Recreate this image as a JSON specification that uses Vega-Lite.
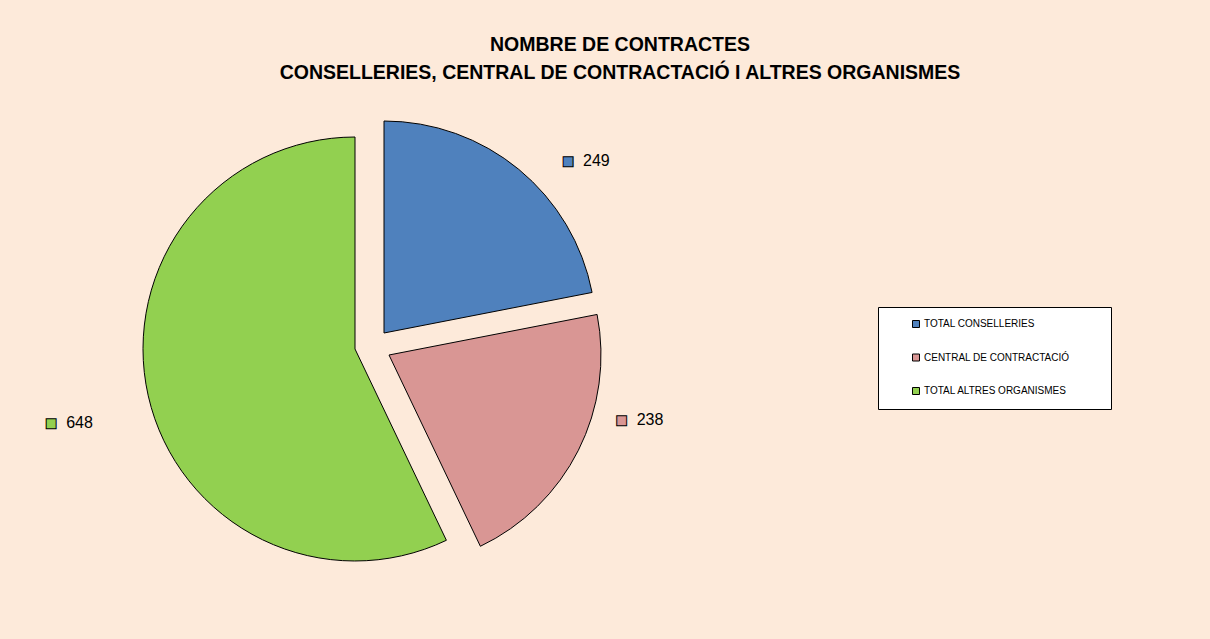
{
  "$schema": "https://vega.github.io/schema/vega-lite/v6.json",
  "autosize": "none",
  "width": 744,
  "height": 584,
  "padding": {"left": 0, "top": 55, "right": 466, "bottom": 0},
  "background": "#FDEADA",
  "view": {"stroke": null},
  "config": {"font": "Liberation Sans"},
  "title": {
    "text": ["NOMBRE DE CONTRACTES", "CONSELLERIES, CENTRAL DE CONTRACTACIÓ I ALTRES ORGANISMES"],
    "font": "Liberation Sans",
    "fontSize": 19.5,
    "fontWeight": "bold",
    "color": "black",
    "anchor": "middle",
    "frame": "group",
    "dx": 248,
    "dy": 48,
    "baseline": "alphabetic",
    "lineHeight": 28,
    "offset": 5
  },
  "data": {
    "values": [
      {"category": "TOTAL CONSELLERIES", "value": 249, "order": 1},
      {"category": "CENTRAL DE CONTRACTACIÓ", "value": 238, "order": 2},
      {"category": "TOTAL ALTRES ORGANISMES", "value": 648, "order": 3}
    ]
  },
  "encoding": {
    "theta": {"field": "value", "type": "quantitative", "stack": true},
    "order": {"field": "order", "type": "quantitative"},
    "detail": {"field": "category", "type": "nominal"}
  },
  "layer": [
    {
      "mark": {"type": "arc", "radius": 212, "stroke": "black", "strokeWidth": 1, "xOffset": 12, "yOffset": -14},
      "encoding": {
        "color": {
          "field": "category", "type": "nominal",
          "scale": {"domain": ["TOTAL CONSELLERIES", "CENTRAL DE CONTRACTACIÓ", "TOTAL ALTRES ORGANISMES"], "range": ["#4F81BD", "#D99694", "#92D050"]},
          "legend": {
            "orient": "none", "legendX": 878, "legendY": 252,
            "title": "MMM",
            "titleOrient": "right", "titleAngle": 0, "titleOpacity": 0,
            "titleFontSize": 10, "titlePadding": 5,
            "fillColor": "white", "strokeColor": "black", "padding": 12,
            "symbolType": "square", "symbolSize": 49, "symbolStrokeColor": "black", "symbolStrokeWidth": 1,
            "symbolOffset": 21, "labelOffset": 3,
            "labelFont": "Liberation Sans", "labelFontSize": 10, "labelColor": "black",
            "labelLimit": 400, "rowPadding": 21.5
          }
        },
        "opacity": {"condition": {"test": "datum.category === 'TOTAL CONSELLERIES'", "value": 1}, "value": 0}
      }
    },
    {
      "mark": {"type": "arc", "radius": 212, "stroke": "black", "strokeWidth": 1, "xOffset": 17, "yOffset": 8},
      "encoding": {
        "color": {"field": "category", "type": "nominal"},
        "opacity": {"condition": {"test": "datum.category === 'CENTRAL DE CONTRACTACIÓ'", "value": 1}, "value": 0}
      }
    },
    {
      "mark": {"type": "arc", "radius": 212, "stroke": "black", "strokeWidth": 1, "xOffset": -17, "yOffset": 2},
      "encoding": {
        "color": {"field": "category", "type": "nominal"},
        "opacity": {"condition": {"test": "datum.category === 'TOTAL ALTRES ORGANISMES'", "value": 1}, "value": 0}
      }
    },
    {
      "mark": {"type": "text", "text": "■", "font": "DejaVu Sans", "fontSize": 13, "stroke": "black", "strokeWidth": 1, "align": "center", "baseline": "middle", "radius": 269, "xOffset": 25, "yOffset": 22},
      "encoding": {
        "color": {"field": "category", "type": "nominal"},
        "opacity": {"condition": {"test": "datum.category === 'TOTAL CONSELLERIES'", "value": 1}, "value": 0}
      }
    },
    {
      "mark": {"type": "text", "font": "Liberation Sans", "fontSize": 16, "color": "black", "align": "left", "baseline": "middle", "dx": 15, "radius": 269, "xOffset": 25, "yOffset": 22},
      "encoding": {
        "text": {"condition": {"test": "datum.category === 'TOTAL CONSELLERIES'", "field": "value", "type": "quantitative"}, "value": ""}
      }
    },
    {
      "mark": {"type": "text", "text": "■", "font": "DejaVu Sans", "fontSize": 13, "stroke": "black", "strokeWidth": 1, "align": "center", "baseline": "middle", "radius": 256, "xOffset": 21, "yOffset": -42},
      "encoding": {
        "color": {"field": "category", "type": "nominal"},
        "opacity": {"condition": {"test": "datum.category === 'CENTRAL DE CONTRACTACIÓ'", "value": 1}, "value": 0}
      }
    },
    {
      "mark": {"type": "text", "font": "Liberation Sans", "fontSize": 16, "color": "black", "align": "left", "baseline": "middle", "dx": 15, "radius": 256, "xOffset": 21, "yOffset": -42},
      "encoding": {
        "text": {"condition": {"test": "datum.category === 'CENTRAL DE CONTRACTACIÓ'", "field": "value", "type": "quantitative"}, "value": ""}
      }
    },
    {
      "mark": {"type": "text", "text": "■", "font": "DejaVu Sans", "fontSize": 13, "stroke": "black", "strokeWidth": 1, "align": "center", "baseline": "middle", "radius": 330, "xOffset": 1, "yOffset": 3},
      "encoding": {
        "color": {"field": "category", "type": "nominal"},
        "opacity": {"condition": {"test": "datum.category === 'TOTAL ALTRES ORGANISMES'", "value": 1}, "value": 0}
      }
    },
    {
      "mark": {"type": "text", "font": "Liberation Sans", "fontSize": 16, "color": "black", "align": "left", "baseline": "middle", "dx": 15, "radius": 330, "xOffset": 1, "yOffset": 3},
      "encoding": {
        "text": {"condition": {"test": "datum.category === 'TOTAL ALTRES ORGANISMES'", "field": "value", "type": "quantitative"}, "value": ""}
      }
    }
  ]
}
